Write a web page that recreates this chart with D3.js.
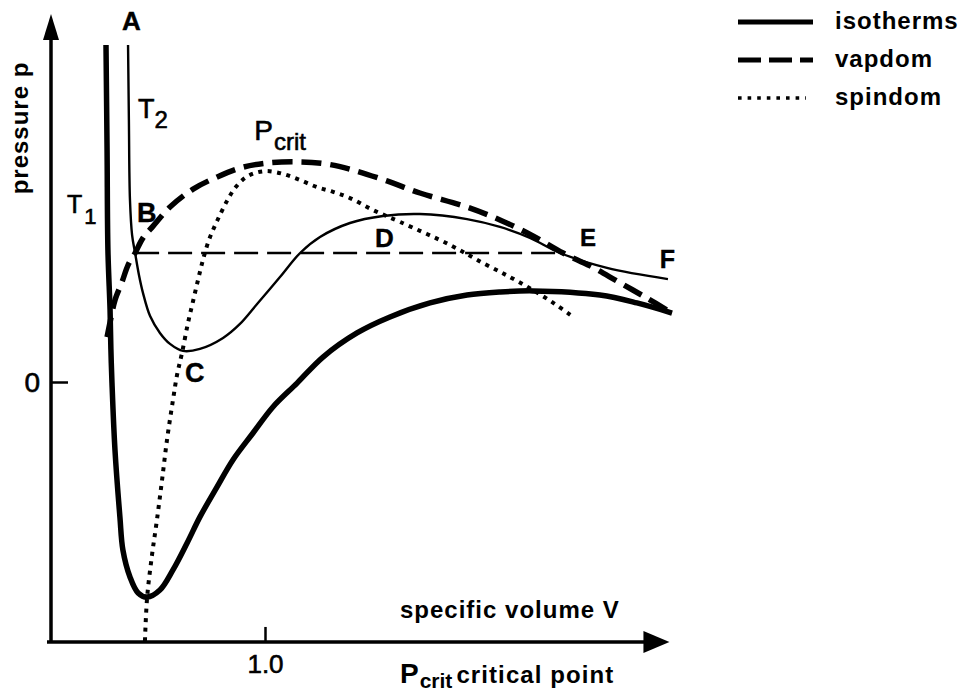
<!DOCTYPE html>
<html>
<head>
<meta charset="utf-8">
<script src="https://cdn.jsdelivr.net/npm/d3@7"></script>
<style>
  body { margin: 0; background: #fff; }
  svg { display: block; }
  text { font-family: 'Liberation Sans', Arial, Helvetica, sans-serif; fill: #000; }
  .lbl { font-size: 24px; font-weight: bold; letter-spacing: 1px; }
  .pt { font-weight: bold; stroke: #000; stroke-width: 0.4px; }
  .nm { stroke: #000; stroke-width: 0.6px; }
</style>
</head>
<body>
<div id="chart"></div>
<script>

// values: V = specific volume, p = pressure (p_crit = 1)
var t1_v = [0.257, 0.262, 0.266, 0.276, 0.280, 0.285, 0.299, 0.322, 0.336, 0.369, 0.407, 0.449,
            0.509, 0.570, 0.636, 0.696, 0.776, 0.850, 0.944, 1.037, 1.150, 1.271, 1.430, 1.584,
            1.771, 1.944, 2.098, 2.252, 2.565, 2.738, 2.902];
var t1_p = [1.539, 1.059, 0.603, 0.329, 0.146, -0.005, -0.311, -0.616, -0.767, -0.890, -0.963, -0.982,
            -0.950, -0.858, -0.735, -0.616, -0.479, -0.356, -0.233, -0.114, -0.005, 0.114, 0.224, 0.297,
            0.361, 0.397, 0.411, 0.416, 0.397, 0.361, 0.315];

var t2_v = [0.360, 0.364, 0.369, 0.379, 0.393, 0.411, 0.430, 0.463, 0.509, 0.556, 0.617, 0.696,
            0.804, 0.883, 0.963, 1.070, 1.164, 1.257, 1.397, 1.551, 1.724, 1.944, 2.098, 2.238,
            2.379, 2.598, 2.883];
var t2_p = [1.539, 1.196, 0.831, 0.671, 0.589, 0.489, 0.406, 0.301, 0.224, 0.174, 0.142, 0.151,
            0.201, 0.265, 0.356, 0.479, 0.589, 0.662, 0.726, 0.758, 0.767, 0.744, 0.708, 0.658,
            0.589, 0.521, 0.470];

var vap_v = [0.262, 0.280, 0.299, 0.332, 0.360, 0.393, 0.430, 0.477, 0.556, 0.664, 0.776, 0.883,
             1.009, 1.164, 1.290, 1.411, 1.570, 1.724, 1.944, 2.098, 2.252, 2.393, 2.519, 2.645,
             2.776, 2.902];
var vap_p = [0.205, 0.292, 0.374, 0.457, 0.534, 0.589, 0.658, 0.712, 0.799, 0.881, 0.936, 0.977,
             1.000, 1.005, 0.995, 0.968, 0.918, 0.863, 0.799, 0.740, 0.667, 0.589, 0.530, 0.461,
             0.388, 0.315];

var spin_v = [0.439, 0.449, 0.472, 0.495, 0.519, 0.542, 0.570, 0.589, 0.612, 0.640, 0.664, 0.687,
              0.710, 0.738, 0.776, 0.822, 0.860, 0.907, 0.953, 1.009, 1.084, 1.164, 1.243, 1.318,
              1.397, 1.505, 1.631, 1.864, 2.019, 2.145, 2.252, 2.355, 2.435];
var spin_p = [-1.183, -0.986, -0.790, -0.630, -0.447, -0.265, -0.082, 0.032, 0.132, 0.269, 0.370, 0.466,
              0.557, 0.648, 0.735, 0.826, 0.886, 0.932, 0.954, 0.963, 0.950, 0.922, 0.890, 0.868,
              0.840, 0.785, 0.731, 0.626, 0.543, 0.479, 0.420, 0.356, 0.301];

// horizontal tie line B - E
var tie_v = [0.393, 2.393];
var tie_p = [0.589, 0.589];

var v_ticks = [1.0];
var p_ticks = [0];
var v_max = 2.89, p_min = -1.187, p_max = 1.68;

var legend_names = ['isotherms', 'vapdom', 'spindom'];

// point labels anchored in data units
var point_labels = [
  {t: 'A', v: 0.332, p: 1.607, size: 26},
  {t: 'B', v: 0.402, p: 0.731, size: 27},
  {t: 'C', v: 0.626, p: 0.000, size: 27},
  {t: 'D', v: 1.514, p: 0.616, size: 26},
  {t: 'E', v: 2.472, p: 0.620, size: 24},
  {t: 'F', v: 2.845, p: 0.521, size: 25}
];

var width = 965, height = 695;

var svg = d3.select('#chart').append('svg')
  .attr('width', width)
  .attr('height', height);

var x = d3.scaleLinear().domain([0, 1]).range([51, 265]);
var y = d3.scaleLinear().domain([0, 1]).range([382, 163]);

function pts(vs, ps){
  return vs.map(function(v, i){ return [v, ps[i]]; });
}

var line = d3.line()
  .x(function(d){ return x(d[0]); })
  .y(function(d){ return y(d[1]); })
  .curve(d3.curveCatmullRom.alpha(0.5));

// axes
svg.append('line')
  .attr('x1', x(0)).attr('x2', x(0))
  .attr('y1', y(p_min) + 1).attr('y2', y(p_max) + 22)
  .attr('stroke', '#000').attr('stroke-width', 3.5);
svg.append('path')
  .attr('d', d3.line()([[x(0), y(p_max)], [x(0) - 8, y(p_max) + 26], [x(0) + 8, y(p_max) + 26]]) + 'Z')
  .attr('fill', '#000');

svg.append('line')
  .attr('x1', x(0) - 4).attr('x2', x(v_max) - 22)
  .attr('y1', y(p_min)).attr('y2', y(p_min))
  .attr('stroke', '#000').attr('stroke-width', 3.5);
svg.append('path')
  .attr('d', d3.line()([[x(v_max), y(p_min)], [x(v_max) - 26, y(p_min) - 11], [x(v_max) - 26, y(p_min) + 11]]) + 'Z')
  .attr('fill', '#000');

var y_axis = svg.append('g')
  .attr('transform', 'translate(' + x(0) + ',0)')
  .call(d3.axisLeft(y).tickValues(p_ticks).tickSize(-17).tickPadding(11).tickFormat(d3.format('d')));
y_axis.select('.domain').remove();
y_axis.selectAll('line').attr('stroke-width', 2.5);
y_axis.selectAll('text').classed('nm', true).attr('font-size', 28).attr('font-family', null).attr('dy', '0.35em');

var x_axis = svg.append('g')
  .attr('transform', 'translate(0,' + y(p_min) + ')')
  .call(d3.axisBottom(x).tickValues(v_ticks).tickSize(-15).tickPadding(13).tickFormat(d3.format('.1f')));
x_axis.select('.domain').remove();
x_axis.selectAll('line').attr('stroke-width', 2.5);
x_axis.selectAll('text').classed('nm', true).attr('font-size', 26).attr('font-family', null);

// curves
svg.append('path')
  .attr('d', line(pts(tie_v, tie_p)))
  .attr('fill', 'none').attr('stroke', '#000')
  .attr('stroke-width', 2.6).attr('stroke-dasharray', '24,9');

svg.append('path')
  .attr('d', line(pts(spin_v, spin_p)))
  .attr('fill', 'none').attr('stroke', '#000')
  .attr('stroke-width', 4).attr('stroke-dasharray', '4,5.5');

svg.append('path')
  .attr('d', line(pts(t2_v, t2_p)))
  .attr('fill', 'none').attr('stroke', '#000')
  .attr('stroke-width', 2.4);

svg.append('path')
  .attr('d', line(pts(t1_v, t1_p)))
  .attr('fill', 'none').attr('stroke', '#000')
  .attr('stroke-width', 5.5).attr('stroke-linejoin', 'round');

svg.append('path')
  .attr('d', line(pts(vap_v, vap_p)))
  .attr('fill', 'none').attr('stroke', '#000')
  .attr('stroke-width', 5.5).attr('stroke-dasharray', '20,9');

// point labels
svg.selectAll('.pt')
  .data(point_labels)
  .enter()
  .append('text')
  .classed('pt', true)
  .attr('x', function(d){ return x(d.v); })
  .attr('y', function(d){ return y(d.p); })
  .attr('font-size', function(d){ return d.size; })
  .text(function(d){ return d.t; });

// isotherm names and critical point
var t1 = svg.append('text').classed('nm', true).attr('x', x(0.075)).attr('y', y(0.772)).attr('font-size', 25);
t1.append('tspan').text('T');
t1.append('tspan').attr('dx', 2).attr('dy', 11).attr('font-size', 22).text('1');

var t2 = svg.append('text').classed('nm', true).attr('x', x(0.407)).attr('y', y(1.205)).attr('font-size', 27);
t2.append('tspan').text('T');
t2.append('tspan').attr('dx', 0).attr('dy', 10).attr('font-size', 24).text('2');

var pc = svg.append('text').classed('nm', true).attr('x', x(0.950)).attr('y', y(1.105)).attr('font-size', 28);
pc.append('tspan').text('P');
pc.append('tspan').attr('dx', 1).attr('dy', 10).attr('font-size', 24).text('crit');

// axis titles
svg.append('text')
  .classed('lbl', true)
  .attr('x', 400).attr('y', 618)
  .text('specific volume V');

var bt = svg.append('text')
  .classed('lbl', true)
  .attr('x', 400).attr('y', 683);
bt.append('tspan').attr('font-size', 28).text('P');
bt.append('tspan').attr('dy', 5).attr('font-size', 21).style('letter-spacing', '0px').text('crit');
bt.append('tspan').attr('dy', -5).attr('dx', 4).style('letter-spacing', '1.1px').text('critical point');

svg.append('text')
  .classed('lbl', true)
  .attr('transform', 'translate(28,128) rotate(-90)')
  .attr('text-anchor', 'middle')
  .text('pressure p');

// legend
var legend = svg.append('g')
  .attr('transform', 'translate(738,22)');

var leg = legend.selectAll('g')
  .data(legend_names)
  .enter()
  .append('g')
  .attr('transform', function(d, i){ return 'translate(0,' + (i * 38) + ')'; });

leg.append('line')
  .attr('x1', 0)
  .attr('x2', function(d, i){ return i === 2 ? 68 : 75; })
  .attr('stroke', '#000')
  .attr('stroke-width', function(d, i){ return i === 2 ? 3.6 : 5; })
  .attr('stroke-dasharray', function(d, i){
    if (i === 1) return '23,8';
    if (i === 2) return '3.6,6';
    return null;
  });

leg.append('text')
  .classed('lbl', true)
  .attr('x', 97)
  .attr('y', 7)
  .text(function(d){ return d; });

</script>
</body>
</html>
